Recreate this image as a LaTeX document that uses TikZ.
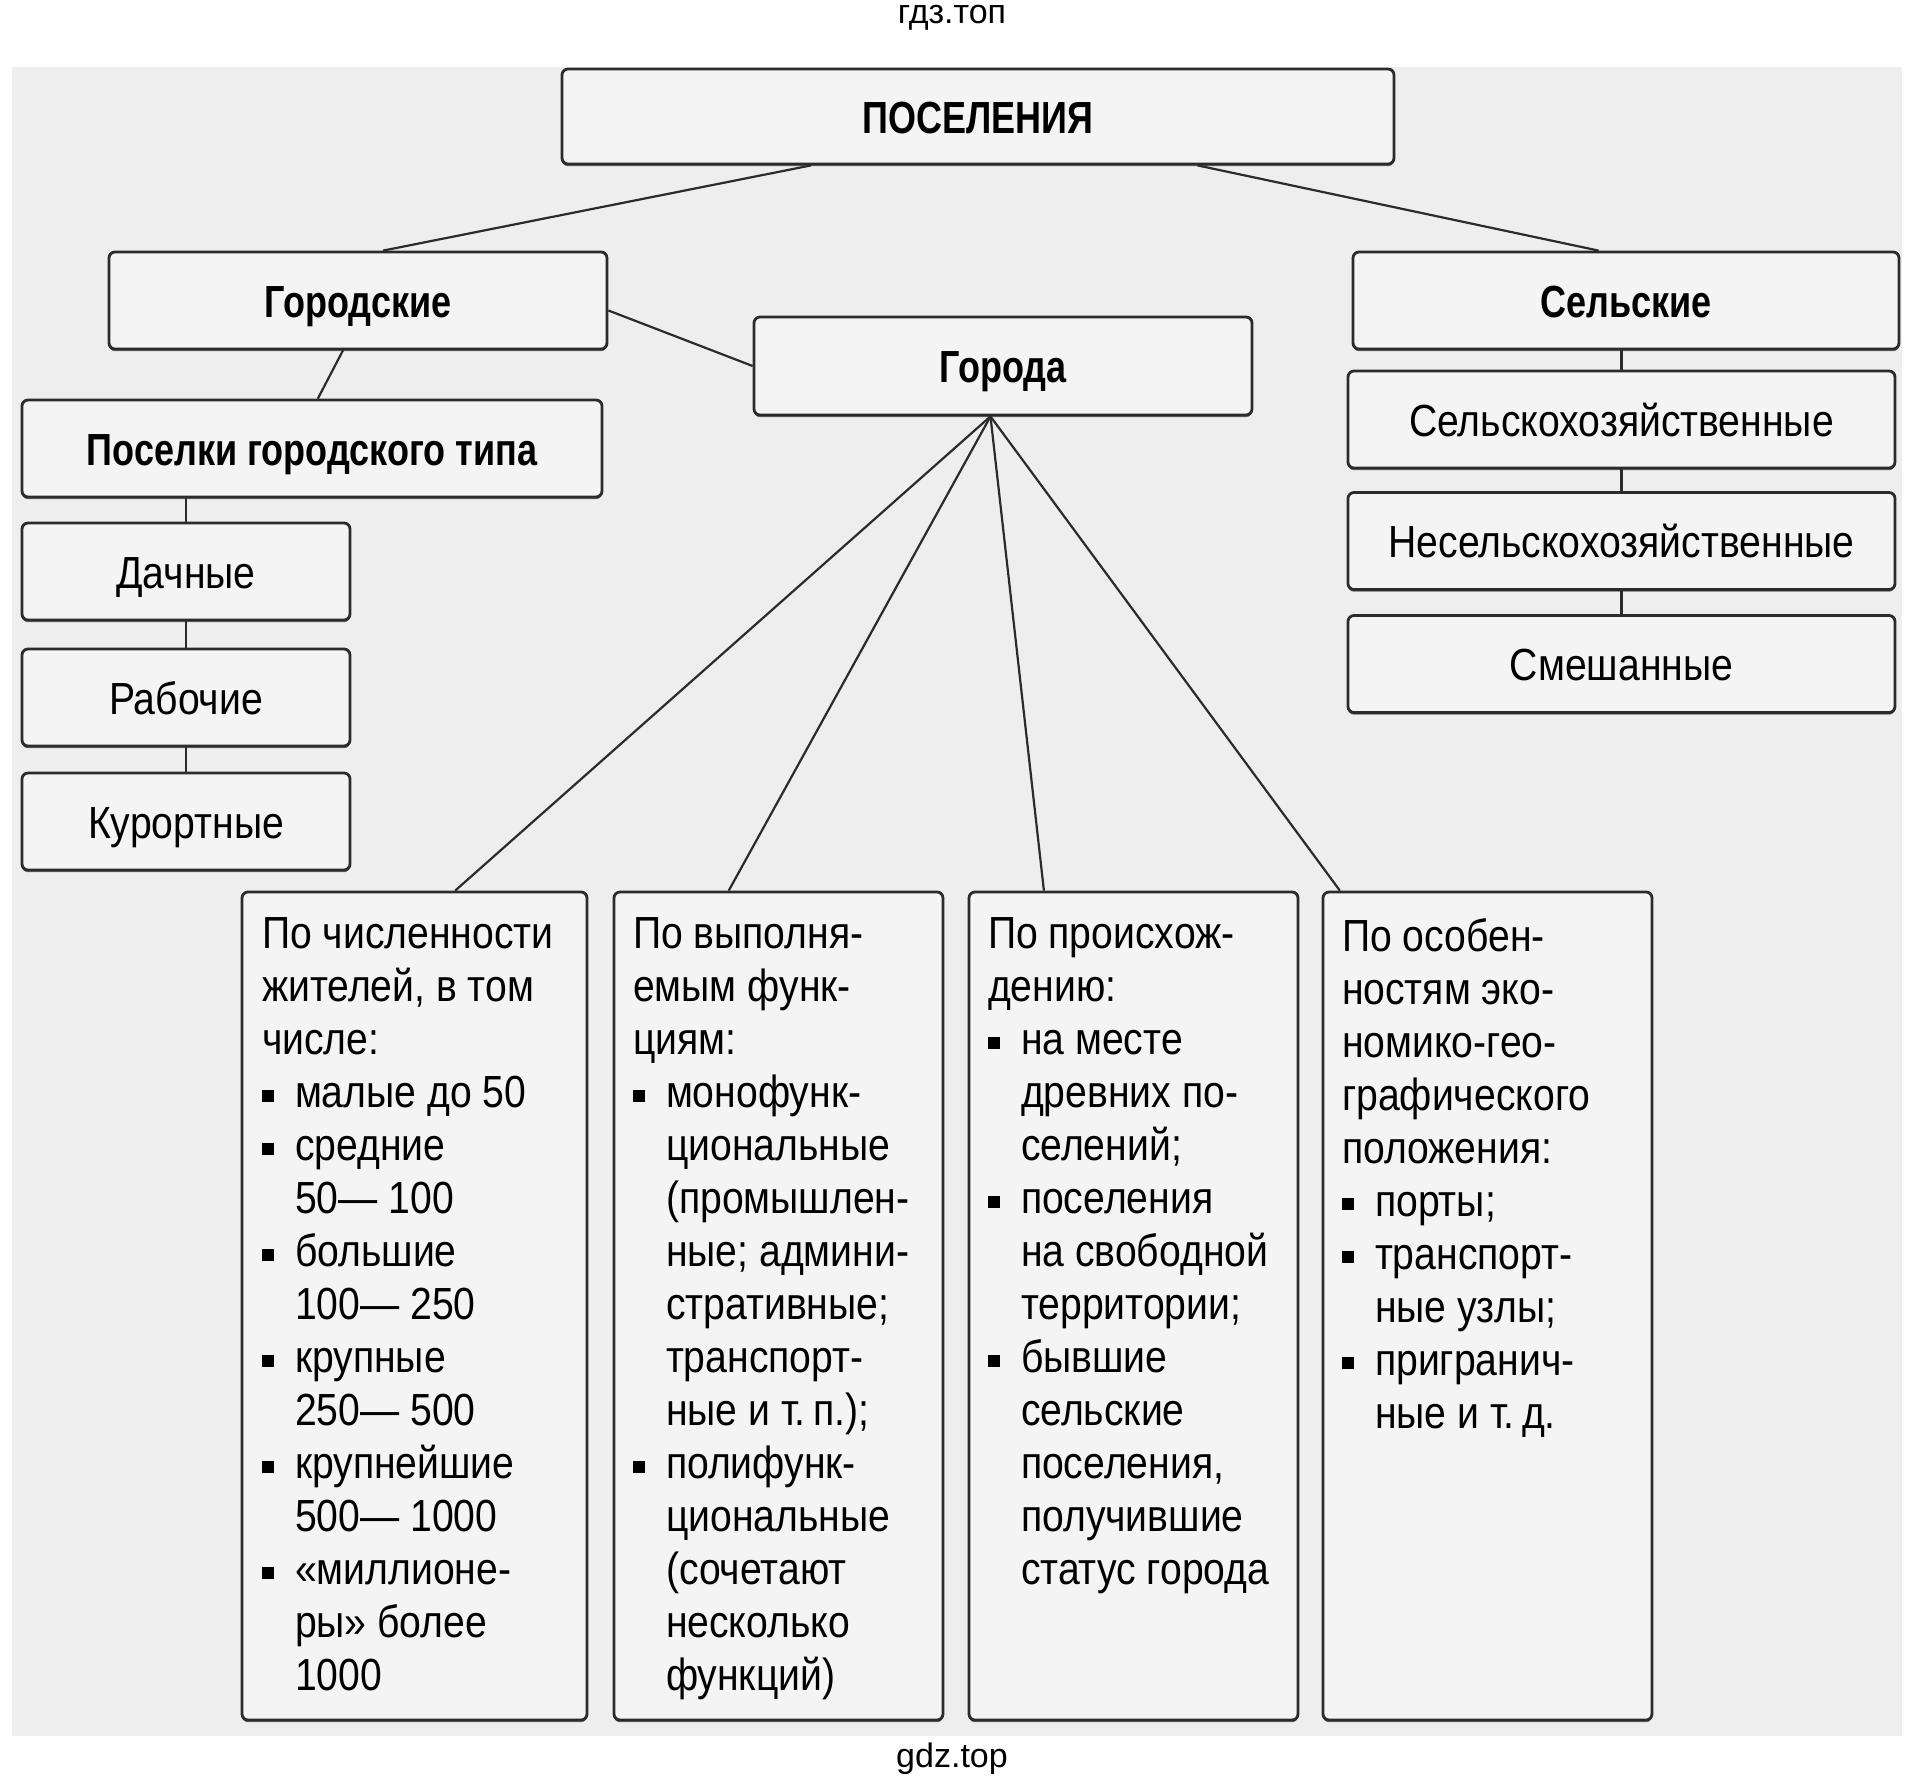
\documentclass[tikz,border=0pt]{standalone}
\usepackage{fontspec}
\setmainfont{Liberation Sans}[FakeStretch=0.87]
\newfontfamily\headfont{Liberation Sans}[FakeStretch=0.80]
\newfontfamily\markfont{Liberation Sans}
\usetikzlibrary{calc,shadows}
\definecolor{fon}{HTML}{EEEEEE}
\definecolor{ramka}{HTML}{F4F4F4}
\definecolor{linia}{HTML}{2B2B2B}
\newcommand{\pnt}{\makebox[16.5pt][l]{\rule[2.8pt]{6pt}{6pt}}}
\newcommand{\otst}{\hspace*{16.5pt}}

\begin{document}
\begin{tikzpicture}[x=0.5pt,y=-0.5pt,
	box/.style={draw=linia, line width=1.4pt, fill=ramka, rounded corners=3pt, inner sep=0pt, minimum height=48.5pt, text height=16.5pt, text depth=0pt, drop shadow={shadow xshift=0pt, shadow yshift=-1.1pt, fill=black!70, opacity=0.8}},
	hdbox/.style={box, font=\headfont\bfseries\fontsize{22.5}{26.5}\selectfont},
	vidbox/.style={box, font=\fontsize{22.5}{26.5}\selectfont},
	listbox/.style={box, minimum width=164.5pt, minimum height=414pt},
	listtext/.style={anchor=north west, inner sep=0pt, align=left, font=\fontsize{22.5}{26.5}\selectfont},
	svyaz/.style={draw=linia, line width=1.1pt}]
		\useasboundingbox (0,0) rectangle (1906,1789);
		\fill[fon] (12,67) rectangle (1902,1736);
		\node[font=\markfont\fontsize{17}{20}\selectfont] (wmtop) at (952,18) {гдз.топ};
		\node[font=\markfont\fontsize{17}{20}\selectfont] (wmbot) at (952,1759) {gdz.top};
		%Верх
		\node[hdbox, minimum width=416pt, minimum height=47.5pt] (pos) at (978,116.5) {ПОСЕЛЕНИЯ};
		\node[hdbox, minimum width=249pt] (gor) at (358,300.5) {Городские};
		\node[hdbox, minimum width=249pt, minimum height=49pt] (goroda) at (1003,366) {Города};
		\node[hdbox, minimum width=273pt] (sel) at (1626,300.5) {Сельские};
		%Поселки
		\node[hdbox, minimum width=290pt] (pgt) at (312,448.5) {Поселки городского типа};
		\node[vidbox, minimum width=164pt] (dach) at (186,571.5) {Дачные};
		\node[vidbox, minimum width=164pt] (rab) at (186,697.5) {Рабочие};
		\node[vidbox, minimum width=164pt] (kur) at (186,821.5) {Курортные};
		%Сельские
		\node[vidbox, minimum width=273.5pt] (shoz) at (1621.5,419.5) {Сельскохозяйственные};
		\node[vidbox, minimum width=273.5pt] (neshoz) at (1621.5,541) {Несельскохозяйственные};
		\node[vidbox, minimum width=273.5pt] (smesh) at (1621.5,664) {Смешанные};
		%Города
		\node[listbox, minimum width=172.5pt] (chisl) at (414.5,1306) {};
		\node[listbox] (func) at (778.5,1306) {};
		\node[listbox] (proish) at (1133.5,1306) {};
		\node[listbox] (egp) at (1487.5,1306) {};
		
		\node[listtext] (chisltxt) at ([xshift=10.5pt,yshift=-13.5pt]chisl.north west) {По численности\\жителей, в том\\числе:\\\pnt малые до 50\\\pnt средние\\\otst 50— 100\\\pnt большие\\\otst 100— 250\\\pnt крупные\\\otst 250— 500\\\pnt крупнейшие\\\otst 500— 1000\\\pnt «миллионе-\\\otst ры» более\\\otst 1000};
		\node[listtext] (functxt) at ([xshift=10pt,yshift=-13.5pt]func.north west) {По выполня-\\емым функ-\\циям:\\\pnt монофунк-\\\otst циональные\\\otst (промышлен-\\\otst ные; админи-\\\otst стративные;\\\otst транспорт-\\\otst ные и т.\,п.);\\\pnt полифунк-\\\otst циональные\\\otst (сочетают\\\otst несколько\\\otst функций)};
		\node[listtext] (proishtxt) at ([xshift=10pt,yshift=-13.5pt]proish.north west) {По происхож-\\дению:\\\pnt на месте\\\otst древних по-\\\otst селений;\\\pnt поселения\\\otst на свободной\\\otst территории;\\\pnt бывшие\\\otst сельские\\\otst поселения,\\\otst получившие\\\otst статус города};
		\node[listtext] (egptxt) at ([xshift=10pt,yshift=-13.5pt]egp.north west) {По особен-\\ностям эко-\\номико-гео-\\графического\\положения:\\\pnt порты;\\\pnt транспорт-\\\otst ные узлы;\\\pnt пригранич-\\\otst ные и т.\,д.};
		%Связи
		\draw[svyaz] ($(pos.south west)!0.3!(pos.south east)$) -- ($(gor.north west)!0.55!(gor.north east)$);
		\draw[svyaz] ($(pos.south west)!0.763!(pos.south east)$) -- ($(sel.north west)!0.45!(sel.north east)$);
		\draw[svyaz] ($(gor.north east)!0.6!(gor.south east)$) -- (goroda.west);
		\draw[svyaz] ($(gor.south west)!0.47!(gor.south east)$) -- ($(pgt.north west)!0.51!(pgt.north east)$);
		\draw[svyaz] (dach.north) -- (dach.north |- pgt.south);
		\draw[svyaz] (rab.north) -- (dach.south);
		\draw[svyaz] (kur.north) -- (rab.south);
		\draw[svyaz] (shoz.north) -- (shoz.north |- sel.south);
		\draw[svyaz] (neshoz.north) -- (shoz.south);
		\draw[svyaz] (smesh.north) -- (neshoz.south);
		\coordinate (uzel) at ($(goroda.south west)!0.475!(goroda.south east)$);
		\draw[svyaz] (uzel) -- ($(chisl.north west)!0.617!(chisl.north east)$);
		\draw[svyaz] (uzel) -- ($(func.north west)!0.35!(func.north east)$);
		\draw[svyaz] (uzel) -- ($(proish.north west)!0.23!(proish.north east)$);
		\draw[svyaz] (uzel) -- ($(egp.north west)!0.055!(egp.north east)$);
	\end{tikzpicture}
\end{document}
